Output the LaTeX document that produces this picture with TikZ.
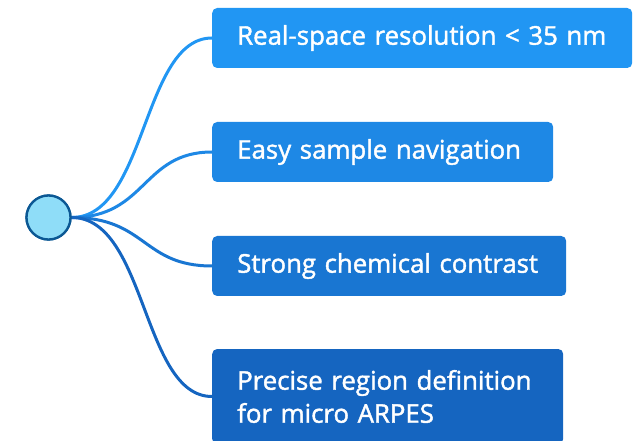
\documentclass[tikz,border=0pt]{standalone}
\usepackage{fontspec}
\setmainfont{Open Sans}[FakeBold=1.6]
\definecolor{bA}{HTML}{2196F3}
\definecolor{bB}{HTML}{1E88E5}
\definecolor{bC}{HTML}{1976D2}
\definecolor{bD}{HTML}{1565C0}
\definecolor{rootfill}{HTML}{8FDDF8}
\definecolor{rootline}{HTML}{0B5894}
\begin{document}
\begin{tikzpicture}[x=1pt,y=1pt,
  leaf/.style={rounded corners=5pt,inner xsep=25pt,inner ysep=0pt,anchor=west,
    text=white,font=\fontsize{25.8}{33}\selectfont,align=left},
  branch/.style={line width=3pt,line cap=round}]
\useasboundingbox (0,0) rectangle (641,440);
% leaves
\node[leaf,fill=bA,minimum height=60pt,text width=370pt] (l1) at (212,402) {Real-space resolution < 35 nm};
\node[leaf,fill=bB,minimum height=60pt,text width=291pt] (l2) at (212,288) {Easy sample navigation};
\node[leaf,fill=bC,minimum height=60pt,text width=304pt] (l3) at (212,174) {Strong chemical contrast};
\node[leaf,fill=bD,minimum height=95pt,text width=301pt] (l4) at (212,43.5) {Precise region definition\\for micro ARPES};
% root
\node[circle,draw=rootline,fill=rootfill,line width=2.3pt,minimum size=44pt,inner sep=0pt] (root) at (48.5,222.5) {};
% branches
\foreach \n/\c in {l1/bA,l2/bB,l3/bC,l4/bD}{
  \draw[branch,\c] (root.east) .. controls +(75,0) and +(-70,0) .. (\n.west);
}
\node[circle,draw=rootline,fill=rootfill,line width=2.3pt,minimum size=44pt,inner sep=0pt] at (root) {};
\end{tikzpicture}
\end{document}
